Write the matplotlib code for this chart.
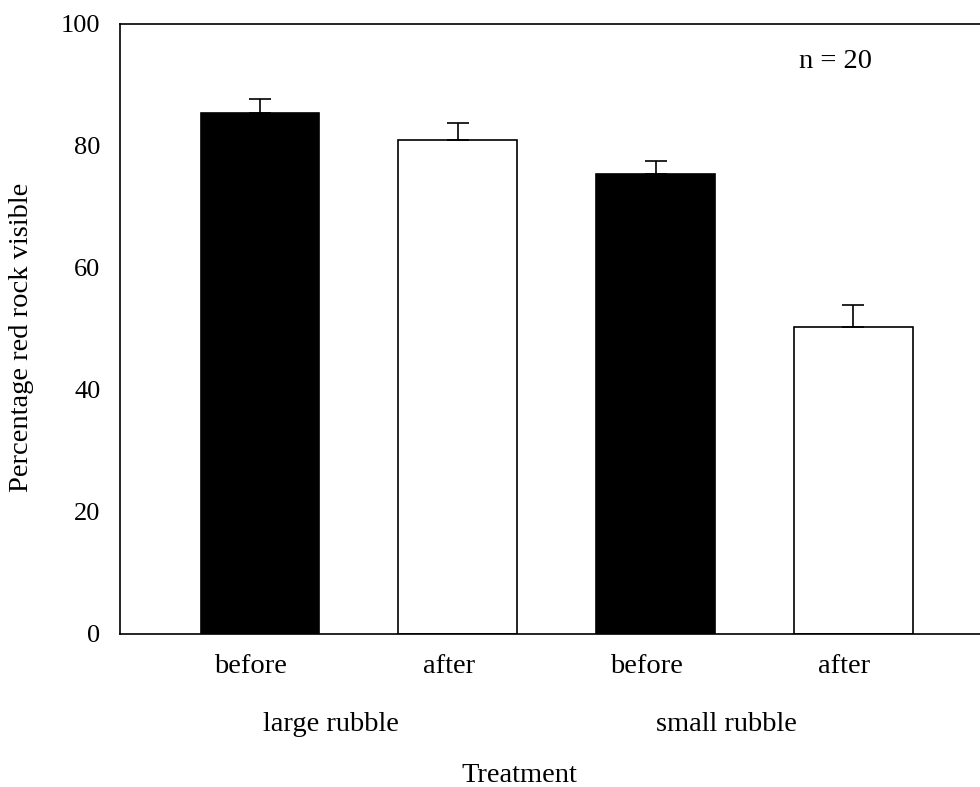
import matplotlib
matplotlib.use("Agg")
import matplotlib.pyplot as plt
import numpy as np

plt.rcParams['font.family'] = ['Liberation Serif', 'DejaVu Serif']

conditions = ["before", "after", "before", "after"]
groups = ["large rubble", "small rubble"]
values = [85.4, 81.0, 75.4, 50.4]
errors = [2.3, 2.8, 2.1, 3.6]
colors = ["black", "white", "black", "white"]
yticks = [0, 20, 40, 60, 80, 100]

FS = 20.5

fig = plt.figure(figsize=(9.8, 7.87), dpi=100)
ax = fig.add_axes([120/980, 1-634/787, 1-120/980, (634-24)/787])

x = np.arange(len(values))
ax.bar(x, values, width=0.6, color=colors, edgecolor="black", linewidth=1.2)
ax.errorbar(x, values, yerr=[np.zeros(len(errors)), errors], fmt="none",
            ecolor="black", elinewidth=1.2, capsize=8, capthick=1.2)

ax.set_ylim(0, 100)
ax.set_xlim(-0.707, 3.64)
ax.set_yticks(yticks)
ax.tick_params(axis="y", length=0, labelsize=19, pad=14)
ax.set_xticks([])
ax.spines["right"].set_visible(False)
for s in ["left", "bottom", "top"]:
    ax.spines[s].set_linewidth(1.2)

for xi, c in zip(x, conditions):
    ax.text(xi - 0.045, -5.4, c, ha="center", va="center", fontsize=FS)

fig.text(22/980, 1-337/787, "Percentage red rock visible", rotation=90,
         ha="center", va="center", fontsize=FS)

for gi, g in enumerate(groups):
    ax.text(2 * gi + 0.36, -14.9, g, ha="center", va="center", fontsize=FS)
fig.text(519/980, 1-775/787, "Treatment", ha="center", va="center", fontsize=FS)
ax.text(2.91, 93.8, "n = 20", ha="center", va="center", fontsize=FS)

fig.savefig("out.png", dpi=100)
